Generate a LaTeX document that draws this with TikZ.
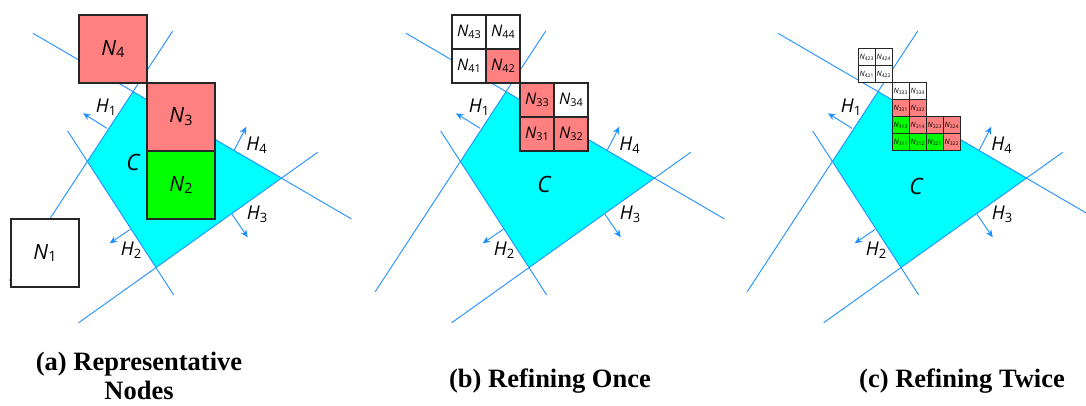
\documentclass[tikz,border=0pt]{standalone}
\usepackage{fontspec}
\setmainfont{Liberation Serif}
\newfontfamily\labfont{Open Sans}
\usetikzlibrary{arrows.meta}
\definecolor{hblue}{RGB}{30,144,255}
\definecolor{nred}{RGB}{255,128,128}
\definecolor{ngreen}{RGB}{0,255,0}
\definecolor{ccyan}{RGB}{0,255,255}
\newcommand{\Lb}[2]{{\itshape #1}\kern0.01em\raisebox{-0.14em}{\scalebox{0.68}{#2}}}
\tikzset{
  hline/.style={draw=hblue, line width=0.9pt},
  harrow/.style={draw=hblue, line width=0.9pt, -{Stealth[length=7.5pt,width=6.5pt]}},
  hlab/.style={font=\labfont\fontsize{19}{22}\selectfont, inner sep=0pt},
  clab/.style={font=\labfont\fontsize{22.5}{26}\selectfont\itshape, inner sep=0pt},
  cell/.style={draw=black!85, line width=1.2pt, inner sep=0pt, anchor=center},
  cbig/.style={cell, minimum size=68pt, font=\labfont\fontsize{21}{24}\selectfont},
  cmid/.style={cell, minimum size=34pt, font=\labfont\fontsize{16}{19}\selectfont},
  csmall/.style={cell, minimum size=17pt, line width=1pt, font=\labfont\fontsize{7.3}{8}\selectfont},
  wf/.style={fill=white}, rf/.style={fill=nred}, gf/.style={fill=ngreen},
  capt/.style={font=\bfseries\fontsize{26.5}{30}\selectfont, inner sep=0pt, anchor=base},
}
\newcommand{\geom}[1]{%
  \coordinate (h1s) at #1;            \coordinate (h1e) at (172.7,31);
  \coordinate (h4s) at (33,33.3);     \coordinate (h4e) at (351.5,219);
  \coordinate (h2s) at (67.7,131);    \coordinate (h2e) at (173.7,295);
  \coordinate (h3s) at (78.7,322.7);  \coordinate (h3e) at (317.7,152.3);
  \coordinate (vt) at (133.2,91.5);   \coordinate (vl) at (87.4,161.5);
  \coordinate (vb) at (156,267.6);    \coordinate (vr) at (281.9,177.8);
  \fill[ccyan] (vt) -- (vl) -- (vb) -- (vr) -- cycle;
  \draw[hline] (h1s) -- (h1e);
  \draw[hline] (h4s) -- (h4e);
  \draw[hline] (h2s) -- (h2e);
  \draw[hline] (h3s) -- (h3e);
  \coordinate (a1s) at (107,128.3);  \coordinate (a1e) at (83,113.3);
  \coordinate (a2s) at (130.3,229.3);\coordinate (a2e) at (109.7,243.3);
  \coordinate (a3s) at (232,214.3);  \coordinate (a3e) at (247.7,237.3);
  \coordinate (a4s) at (234.3,150);  \coordinate (a4e) at (246.3,126.7);
  \draw[harrow] (a1s) -- (a1e);
  \draw[harrow] (a2s) -- (a2e);
  \draw[harrow] (a3s) -- (a3e);
  \draw[harrow] (a4s) -- (a4e);
  \node[hlab] (lh1) at (106,107) {\Lb{H}{1}};
  \node[hlab] (lh2) at (131,250) {\Lb{H}{2}};
  \node[hlab] (lh3) at (257,214) {\Lb{H}{3}};
  \node[hlab] (lh4) at (256.5,145) {\Lb{H}{4}};
}
\begin{document}
\begin{tikzpicture}[x=1pt,y=-1pt]
\useasboundingbox (0,0) rectangle (1086,406);
\fill[white] (0,0) rectangle (1086,406);
% ---------- panel (a)
\begin{scope}[name prefix=a-]
  \geom{(9.5,280.5)}
  \node[cbig,wf] (n1) at (45,253) {\Lb{N}{1}};
  \node[cbig,gf] (n2) at (181,185) {\Lb{N}{2}};
  \node[cbig,rf] (n3) at (181,117) {\Lb{N}{3}};
  \node[cbig,rf] (n4) at (113,49) {\Lb{N}{4}};
  \node[clab] (c) at (133,162) {C};
\end{scope}
% ---------- panel (b)
\begin{scope}[shift={(373,0)}, name prefix=b-]
  \geom{(2,292)}
  \node[cmid,wf] (n43) at (96,32) {\Lb{N}{43}};
  \node[cmid,wf] (n44) at (130,32) {\Lb{N}{44}};
  \node[cmid,wf] (n41) at (96,66) {\Lb{N}{41}};
  \node[cmid,rf] (n42) at (130,66) {\Lb{N}{42}};
  \node[cmid,rf] (n33) at (164,100) {\Lb{N}{33}};
  \node[cmid,wf] (n34) at (198,100) {\Lb{N}{34}};
  \node[cmid,rf] (n31) at (164,134) {\Lb{N}{31}};
  \node[cmid,rf] (n32) at (198,134) {\Lb{N}{32}};
  \node[clab] (c) at (171,184) {C};
\end{scope}
% ---------- panel (c)
\begin{scope}[shift={(745,0)}, name prefix=c-]
  \geom{(2,292)}
  \node[csmall,wf] (n423) at (121.5,57.5) {\Lb{N}{423}};
  \node[csmall,wf] (n424) at (138.5,57.5) {\Lb{N}{424}};
  \node[csmall,wf] (n421) at (121.5,74.5) {\Lb{N}{421}};
  \node[csmall,wf] (n422) at (138.5,74.5) {\Lb{N}{422}};
  \node[csmall,wf] (n333) at (155.5,91.5) {\Lb{N}{333}};
  \node[csmall,wf] (n334) at (172.5,91.5) {\Lb{N}{334}};
  \node[csmall,rf] (n331) at (155.5,108.5) {\Lb{N}{331}};
  \node[csmall,rf] (n332) at (172.5,108.5) {\Lb{N}{332}};
  \node[csmall,gf] (n313) at (155.5,125.5) {\Lb{N}{313}};
  \node[csmall,rf] (n314) at (172.5,125.5) {\Lb{N}{314}};
  \node[csmall,rf] (n323) at (189.5,125.5) {\Lb{N}{323}};
  \node[csmall,rf] (n324) at (206.5,125.5) {\Lb{N}{324}};
  \node[csmall,gf] (n311) at (155.5,142.5) {\Lb{N}{311}};
  \node[csmall,gf] (n312) at (172.5,142.5) {\Lb{N}{312}};
  \node[csmall,gf] (n321) at (189.5,142.5) {\Lb{N}{321}};
  \node[csmall,rf] (n322) at (206.5,142.5) {\Lb{N}{322}};
  \node[clab] (c) at (171,186) {C};
\end{scope}
% ---------- captions
\node[capt] (capa1) at (139,370) {(a) Representative};
\node[capt] (capa2) at (139,399) {Nodes};
\node[capt] (capb) at (550,387) {(b) Refining Once};
\node[capt] (capc) at (962,387) {(c) Refining Twice};
\end{tikzpicture}
\end{document}
